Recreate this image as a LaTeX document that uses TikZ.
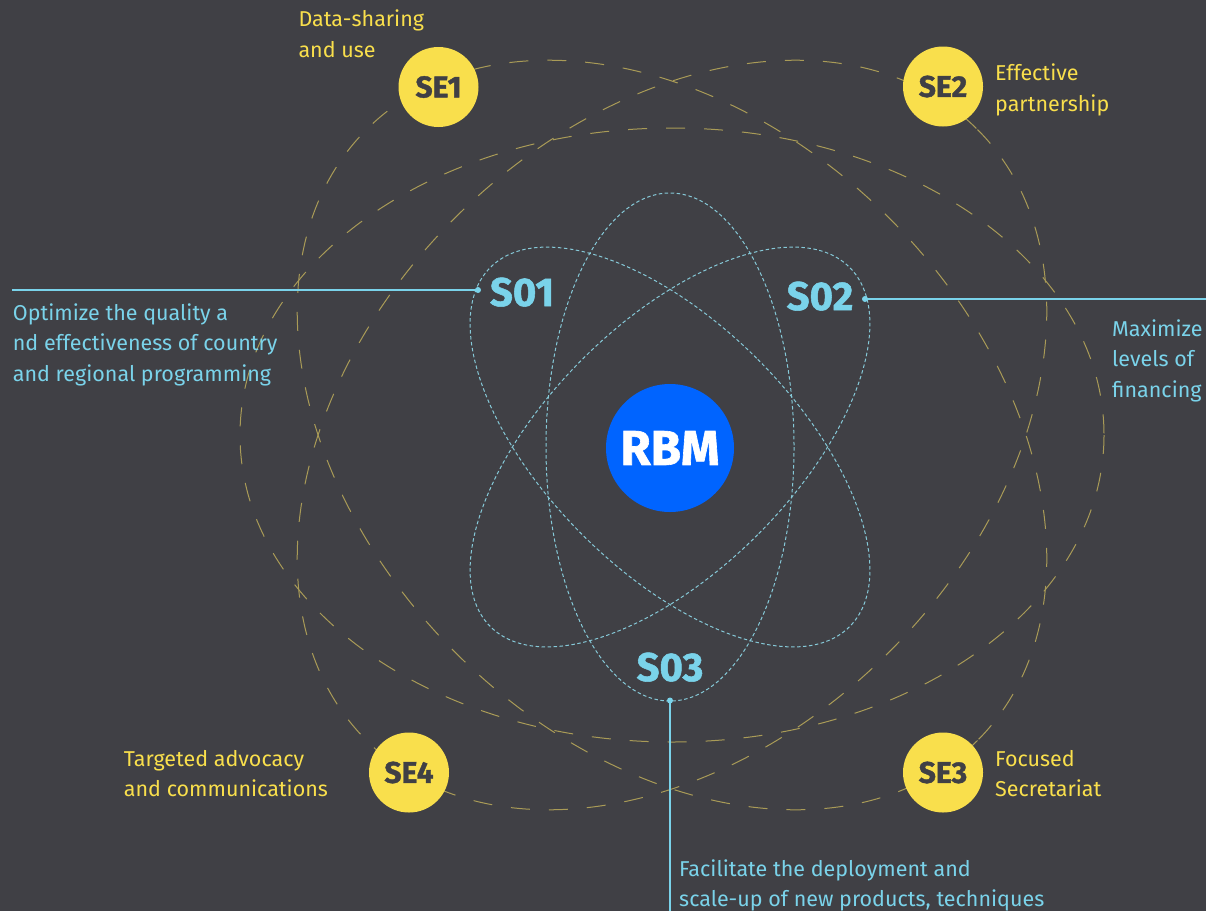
\documentclass[tikz,border=0pt]{standalone}
\usepackage{fontspec}
\setmainfont{Fira Sans}
\newfontfamily\heavyfont[FakeBold=1.3]{Fira Sans}
\definecolor{bg}{HTML}{404045}
\definecolor{sey}{HTML}{F9DF4C}
\definecolor{dashy}{HTML}{A99B57}
\definecolor{txtb}{HTML}{7AD3EA}
\definecolor{dashb}{HTML}{86C9D8}
\definecolor{rbmblue}{HTML}{0064FF}
\begin{document}
\begin{tikzpicture}[x=1pt,y=-1pt,
  yorbit/.style={draw=dashy, line width=1pt, dash pattern=on 19pt off 19pt},
  borbit/.style={draw=dashb, line width=1pt, dash pattern=on 3.5pt off 2.5pt},
  sebox/.style={circle, fill=sey, minimum size=80pt, inner sep=0pt, text=bg,
    font=\fontsize{30}{30}\heavyfont\bfseries},
  slabel/.style={text=txtb, font=\fontsize{40}{40}\heavyfont\bfseries, inner sep=0pt, anchor=base},
  ytext/.style={text=sey, font=\fontsize{21.5}{30.5}\selectfont, align=left, inner sep=0pt, anchor=base west},
  btext/.style={text=txtb, font=\fontsize{21.5}{30.5}\selectfont, align=left, inner sep=0pt, anchor=base west},
  conn/.style={draw=txtb, line width=1.5pt},
  dotbox/.style={circle, fill=txtb, minimum size=6pt, inner sep=0pt},
]
\fill[bg] (0,0) rectangle (1206,911);
\useasboundingbox (0,0) rectangle (1206,911);
\coordinate (yc) at (672,435);
\coordinate (bc) at (670,447);
% yellow orbits
\draw[yorbit] (yc) ellipse [x radius=432, y radius=307];
\draw[yorbit, rotate around={45:(yc)}] (yc) ellipse [x radius=432, y radius=307];
\draw[yorbit, rotate around={-45:(yc)}] (yc) ellipse [x radius=432, y radius=307];
% blue orbits
\draw[borbit] (bc) ellipse [x radius=124, y radius=254];
\draw[borbit, rotate around={45:(bc)}] (bc) ellipse [x radius=124, y radius=254];
\draw[borbit, rotate around={-45:(bc)}] (bc) ellipse [x radius=124, y radius=254];
% centre
\node[circle, fill=rbmblue, minimum size=128pt, inner sep=0pt, text=white,
  font=\fontsize{49}{49}\heavyfont\bfseries] (rbm) at (670,448) {RBM};
% SE circles
\node[sebox] (se1) at (438.5,87) {SE1};
\node[sebox] (se2) at (943,86.5) {SE2};
\node[sebox] (se3) at (943,772.5) {SE3};
\node[sebox] (se4) at (409,772.5) {SE4};
% SO labels
\node[slabel] (so1) at (522,306) {S01};
\node[slabel] (so2) at (820,310) {S02};
\node[slabel] (so3) at (670,681) {S03};
% connectors
\node[dotbox] (d1) at (478,290) {};
\node[dotbox] (d2) at (865,299) {};
\node[dotbox] (d3) at (670,700.5) {};
\coordinate (e1) at (12,290);
\coordinate (e2) at (1206,299);
\coordinate (e3) at (670,911);
\draw[conn] (d1.center) -- (e1);
\draw[conn] (d2.center) -- (e2);
\draw[conn] (d3.center) -- (e3);
% texts (anchor = baseline of the last line)
\node[ytext] (t1) at (298.3,57.3) {Data-sharing\\and use};
\node[ytext] (t2) at (995,111) {Effective\\partnership};
\node[ytext] (t4) at (123.7,796.7) {Targeted advocacy\\and communications};
\node[ytext] (t3) at (995,796.7) {Focused\\Secretariat};
\node[btext] (b1) at (12.7,381) {Optimize the quality a\\nd effectiveness of country\\and regional programming};
\node[btext] (b2) at (1112,397) {Maximize\\levels of\\financing};
\node[btext] (b3) at (679,906.7) {Facilitate the deployment and\\scale-up of new products, techniques};
\end{tikzpicture}
\end{document}
